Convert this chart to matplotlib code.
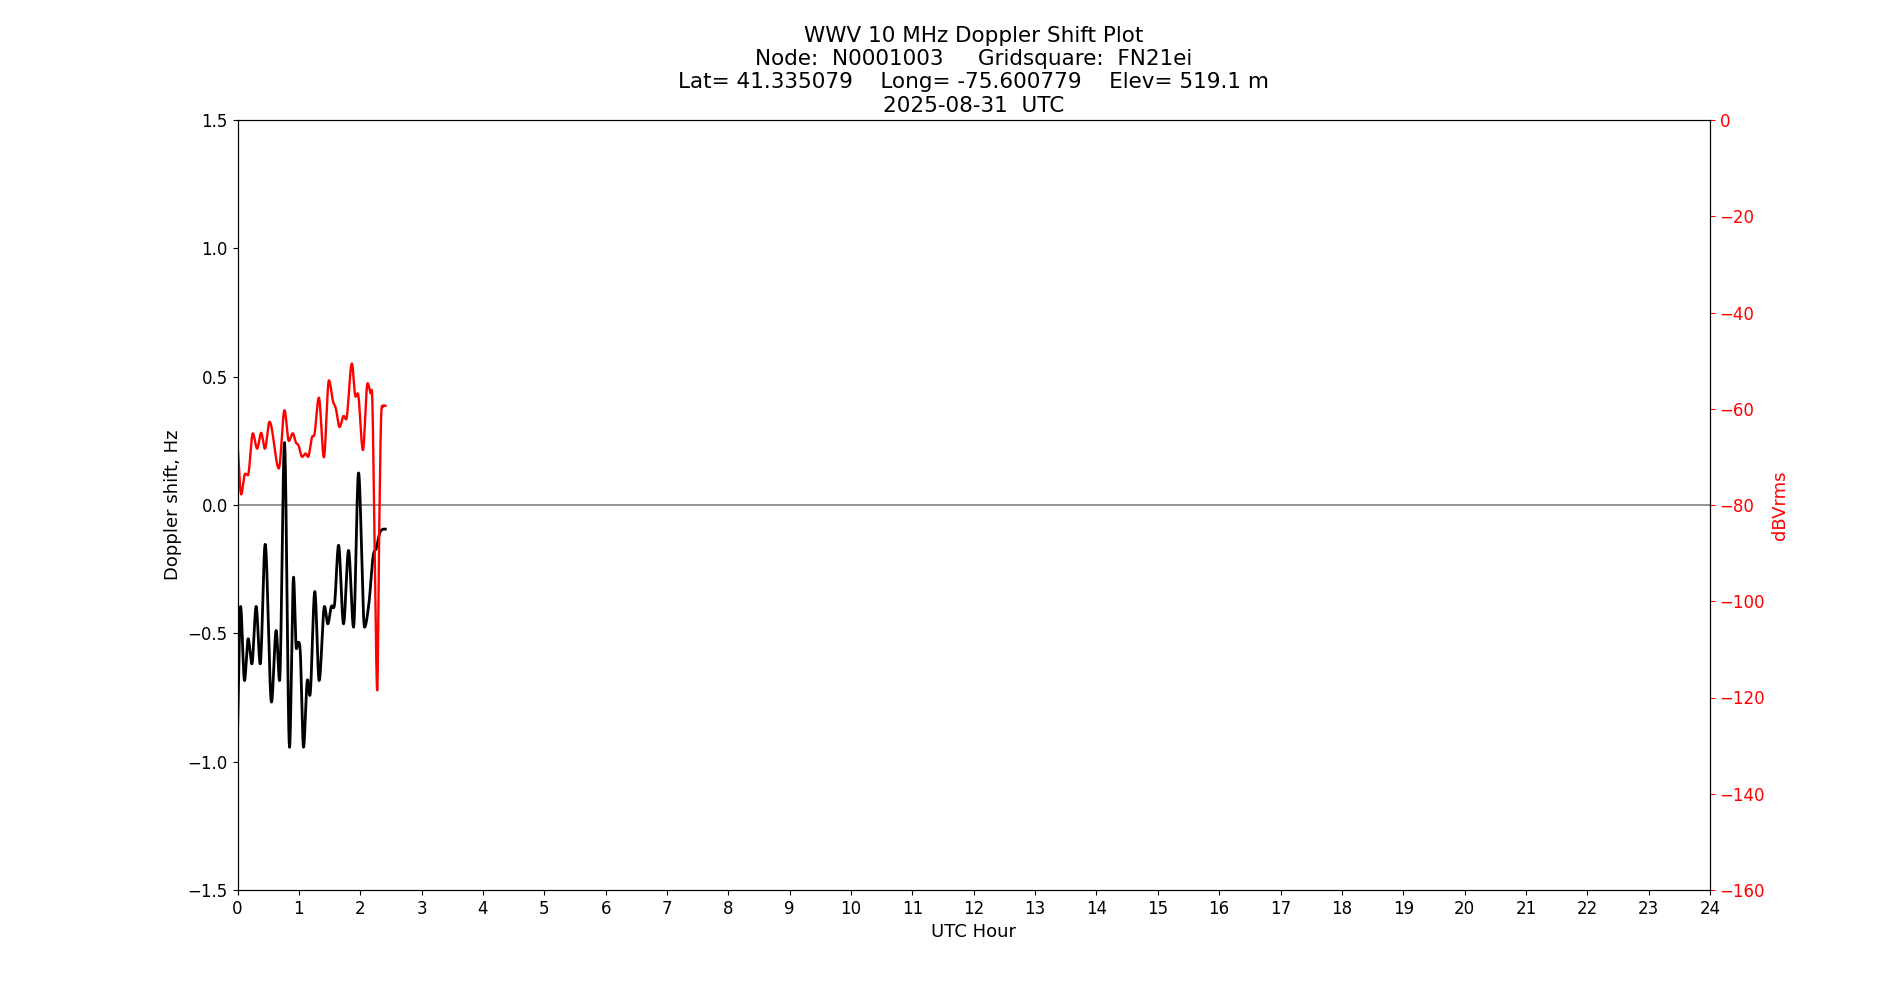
import numpy as np
import matplotlib
matplotlib.use("Agg")
import matplotlib.pyplot as plt

# doppler shift (Hz) vs UTC hour
t_dop = [0.0, 0.05, 0.114, 0.174, 0.234, 0.304, 0.37, 0.451, 0.554, 0.63, 0.685,
         0.766, 0.848, 0.913, 0.96, 0.99, 1.02, 1.076, 1.141, 1.179, 1.26, 1.331,
         1.418, 1.472, 1.53, 1.58, 1.647, 1.728, 1.81, 1.891, 1.973, 2.07, 2.141,
         2.217, 2.26, 2.315, 2.358, 2.41]
dop = [-0.9, -0.395, -0.684, -0.521, -0.619, -0.395, -0.619, -0.153, -0.768, -0.489, -0.684,
       0.243, -0.944, -0.281, -0.56, -0.535, -0.56, -0.944, -0.681, -0.742, -0.337, -0.684,
       -0.395, -0.463, -0.395, -0.39, -0.157, -0.463, -0.177, -0.476, 0.125, -0.476, -0.385,
       -0.19, -0.17, -0.11, -0.096, -0.094]

# received power (dBVrms) vs UTC hour
t_pwr = [0.0, 0.06, 0.125, 0.17, 0.25, 0.32, 0.386, 0.446, 0.522, 0.674, 0.766,
         0.837, 0.9, 0.955, 0.99, 1.054, 1.11, 1.15, 1.217, 1.25, 1.326, 1.408,
         1.49, 1.56, 1.6, 1.663, 1.73, 1.77, 1.864, 1.925, 1.96, 2.044, 2.12,
         2.17, 2.195, 2.235, 2.277, 2.31, 2.34, 2.37, 2.41]
pwr = [-67, -77.8, -73.5, -73.8, -65.1, -68.3, -65.0, -68.3, -62.7, -72.4, -60.3,
       -66.7, -65.1, -67.1, -67.5, -70.0, -69.3, -70.0, -65.8, -65.5, -57.7, -70.1,
       -54.1, -58.6, -59.8, -63.8, -61.5, -62.2, -50.6, -57.5, -56.8, -68.6, -54.7,
       -56.8, -57.3, -88.0, -118.5, -85.0, -62.0, -59.6, -59.4]

def smooth(t, v):
    # cubic hermite through the read points, flat at the turning points
    tt = np.linspace(t[0], t[-1], 800)
    t = np.asarray(t); v = np.asarray(v)
    m = np.gradient(v, t)
    for i in range(1, len(v) - 1):
        if (v[i] - v[i-1]) * (v[i+1] - v[i]) <= 0:
            m[i] = 0.0
    idx = np.clip(np.searchsorted(t, tt) - 1, 0, len(t) - 2)
    h = t[idx + 1] - t[idx]
    s = (tt - t[idx]) / h
    h00 = 2*s**3 - 3*s**2 + 1
    h10 = s**3 - 2*s**2 + s
    h01 = -2*s**3 + 3*s**2
    h11 = s**3 - s**2
    vv = h00*v[idx] + h10*h*m[idx] + h01*v[idx+1] + h11*h*m[idx+1]
    return tt, vv

fig = plt.figure(figsize=(19, 10))
ax = fig.add_subplot(111)
ax.axhline(0, color='grey', lw=1.2)
x1, y1 = smooth(t_dop, dop)
ax.plot(x1, y1, color='k', lw=2)
ax.set_xlim(0, 24)
ax.set_ylim(-1.5, 1.5)
ax.set_xticks(np.arange(0, 25, 1))
ax.set_xlabel('UTC Hour', fontsize=13)
ax.set_ylabel('Doppler shift, Hz', fontsize=13)
ax.tick_params(labelsize=12)

ax2 = ax.twinx()
x2, y2 = smooth(t_pwr, pwr)
ax2.plot(x2, y2, color='r', lw=1.7)
ax2.set_ylim(-160, 0)
ax2.set_ylabel('dBVrms', color='r', fontsize=13)
ax2.tick_params(axis='y', colors='r', labelsize=12)

ax.set_title('WWV 10 MHz Doppler Shift Plot\n'
             'Node:  N0001003     Gridsquare:  FN21ei\n'
             'Lat= 41.335079    Long= -75.600779    Elev= 519.1 m\n'
             '2025-08-31  UTC', fontsize=15.5)

fig.savefig('out.png', dpi=100)
